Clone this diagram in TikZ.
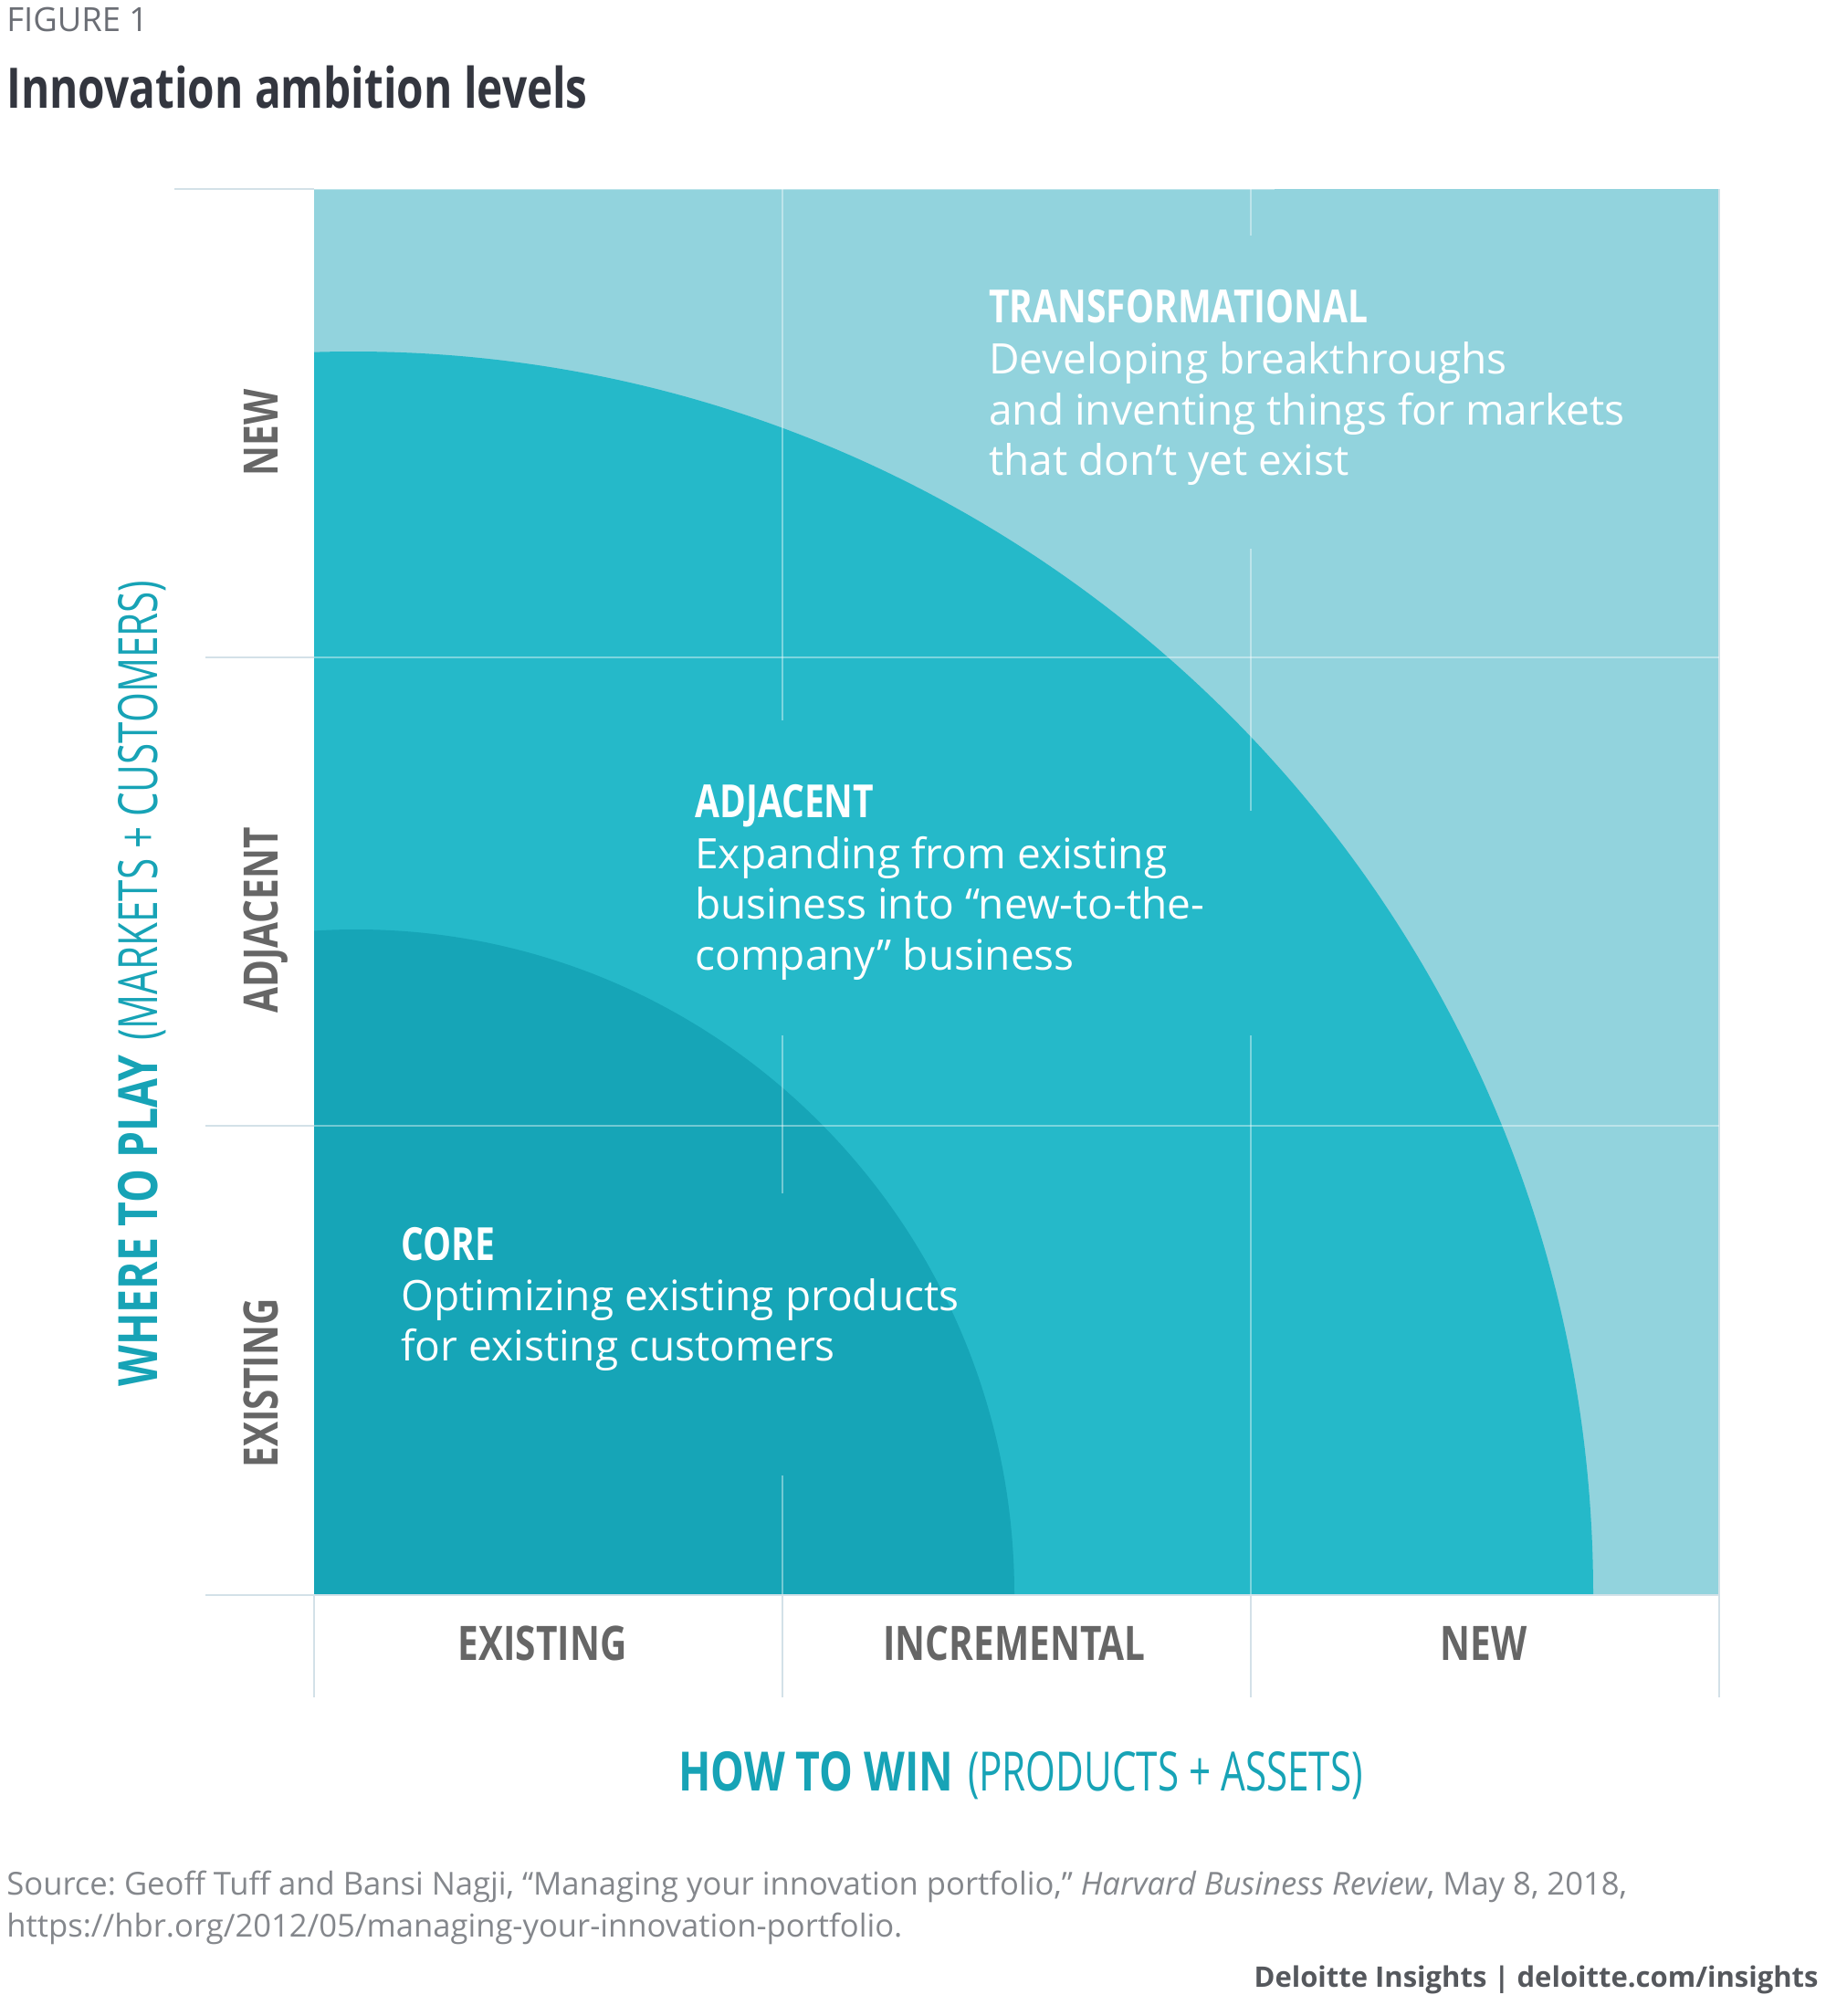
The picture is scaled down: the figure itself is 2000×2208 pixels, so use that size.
\documentclass[tikz,border=0pt]{standalone}
\usepackage{fontspec}
\setmainfont{Open Sans}
\newfontfamily\condfont[FakeStretch=0.78]{Open Sans}
\newfontfamily\condlight[FakeStretch=0.71]{Open Sans}
\definecolor{lightteal}{HTML}{92D3DD}
\definecolor{midteal}{HTML}{25B9C9}
\definecolor{coreteal}{HTML}{16A5B7}
\definecolor{axisteal}{HTML}{17A3B6}
\definecolor{labgray}{HTML}{666666}
\definecolor{titlecol}{HTML}{33363F}
\definecolor{figgray}{HTML}{6B6E75}
\definecolor{srcgray}{HTML}{84878C}
\definecolor{brandgray}{HTML}{55585D}
\definecolor{gridgray}{HTML}{D3E1E8}
\frenchspacing
\begin{document}
\begin{tikzpicture}[x=0.5pt,y=-0.5pt,
  gridin/.style={draw=white, draw opacity=0.4, line width=1pt},
  gridout/.style={draw=gridgray, line width=1pt},
  hdr/.style={anchor=base west, inner sep=0, text=white, font=\condfont\bfseries\fontsize{25}{30}\selectfont},
  bodytxt/.style={anchor=base west, inner sep=0, text=white, font=\fontsize{23}{28}\selectfont},
  axlab/.style={anchor=base, inner sep=0, text=labgray, font=\condfont\bfseries\fontsize{26}{30}\selectfont},
  axtitle/.style={anchor=base, inner sep=0, text=axisteal, font=\fontsize{29.7}{36}\selectfont},
  srctxt/.style={anchor=base west, inner sep=0, text=srcgray, font=\fontsize{17.3}{22}\selectfont}]
\useasboundingbox (0,0) rectangle (2000,2208);
\fill[white] (0,0) rectangle (2000,2208);

% regions
\fill[lightteal] (344,207) rectangle (1883,1746);
\begin{scope}
  \clip (344,207) rectangle (1883,1746);
  \fill[midteal] (387,1746) ellipse [x radius=1358, y radius=1361];
  \fill[coreteal] (390,1746) ellipse [x radius=721, y radius=728];
\end{scope}

% grid lines outside the plot
\draw[gridout] (191,207) -- (344,207);
\draw[gridout] (225,720) -- (344,720);
\draw[gridout] (225,1233) -- (344,1233);
\draw[gridout] (225,1747) -- (1883,1747);
\draw[gridout] (344,1747) -- (344,1859);
\draw[gridout] (857,1747) -- (857,1859);
\draw[gridout] (1370,1747) -- (1370,1859);
\draw[gridout] (1883,207) -- (1883,1859);

% grid lines inside the plot
\draw[gridin] (344,207) -- (1396,207);
\draw[gridin] (344,720) -- (1883,720);
\draw[gridin] (344,1233) -- (1883,1233);
\draw[gridin] (857,207) -- (857,789);
\draw[gridin] (857,1134) -- (857,1307);
\draw[gridin] (857,1616) -- (857,1746);
\draw[gridin] (1370,207) -- (1370,258);
\draw[gridin] (1370,601) -- (1370,888);
\draw[gridin] (1370,1134) -- (1370,1746);

% heading
\node[anchor=base west, inner sep=0, text=figgray, font=\fontsize{18.2}{22}\selectfont] (fig) at (7,34) {FIGURE 1};
\node[anchor=base west, inner sep=0, text=titlecol, font=\condfont\bfseries\fontsize{30.6}{36}\selectfont] (title) at (7,118) {Innovation ambition levels};

% transformational
\node[hdr] (th) at (1083,353) {TRANSFORMATIONAL};
\node[bodytxt] (t1) at (1083,409) {Developing breakthroughs};
\node[bodytxt] (t2) at (1083,465) {and inventing things for markets};
\node[bodytxt] (t3) at (1083,520) {that don’t yet exist};

% adjacent
\node[hdr] (ah) at (761,895) {ADJACENT};
\node[bodytxt] (a1) at (761,951) {Expanding from existing};
\node[bodytxt] (a2) at (761,1006) {business into “new-to-the-};
\node[bodytxt] (a3) at (761,1062) {company” business};

% core
\node[hdr] (ch) at (439,1380) {CORE};
\node[bodytxt] (c1) at (439,1435) {Optimizing existing products};
\node[bodytxt] (c2) at (439,1490) {for existing customers};

% row labels
\node[axlab, rotate=90] (rnew) at (304,474) {NEW};
\node[axlab, rotate=90] (radj) at (304,1008) {ADJACENT};
\node[axlab, rotate=90] (rex) at (304,1515) {EXISTING};

% column labels
\node[axlab] (cex) at (594,1818) {EXISTING};
\node[axlab] (cinc) at (1111,1818) {INCREMENTAL};
\node[axlab] (cnew) at (1625,1818) {NEW};

% axis titles
\node[axtitle, rotate=90] (wtp) at (172,1077) {{\condfont\bfseries WHERE TO PLAY} {\condlight(MARKETS + CUSTOMERS)}};
\node[axtitle] (htw) at (1118,1961) {{\condfont\bfseries HOW TO WIN} {\condlight(PRODUCTS + ASSETS)}};

% footer
\node[srctxt] (src1) at (7,2075) {Source: Geoff Tuff and Bansi Nagji, “Managing your innovation portfolio,” \textit{Harvard Business Review}, May 8, 2018,};
\node[srctxt] (src2) at (7,2121) {https://hbr.org/2012/05/managing-your-innovation-portfolio.};
\node[anchor=base east, inner sep=0, text=brandgray, font=\bfseries\fontsize{15.5}{20}\selectfont] (brand) at (1992,2176) {Deloitte Insights | deloitte.com/insights};
\end{tikzpicture}
\end{document}
